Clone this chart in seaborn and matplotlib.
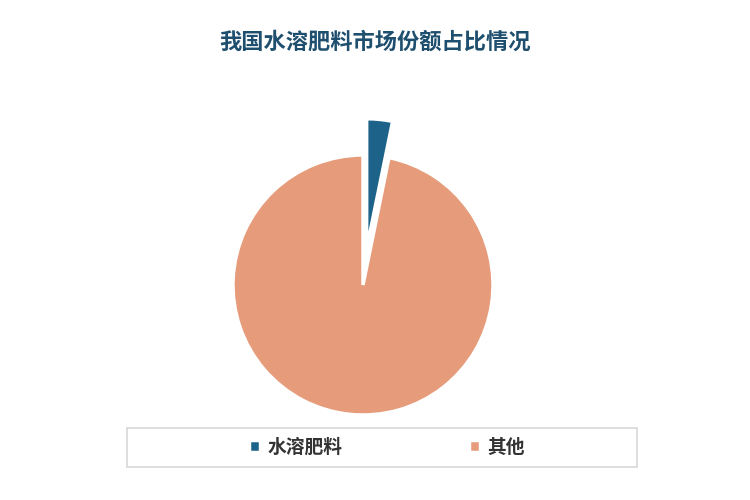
import matplotlib
matplotlib.use("Agg")
import matplotlib.pyplot as plt
from matplotlib.patches import Rectangle
import seaborn as sns

# data
labels = ['水溶肥料', '其他']
shares = [3.2, 96.8]
colors = ['#1d6389', '#e69b7a']
explode = [0.28, 0]

sns.set_theme(style="white")
plt.rcParams['font.family'] = ['Noto Sans CJK SC', 'DejaVu Sans']

fig = plt.figure(figsize=(7.5, 5), dpi=100)
fig.patch.set_facecolor('white')

# pie axes: centre at (363, 285) px, radius 130 px
half = 200
ax = fig.add_axes([(363 - half) / 750, (500 - 285 - half) / 500, 2 * half / 750, 2 * half / 500])
wedges, _ = ax.pie(shares, colors=colors, explode=explode, startangle=90,
                   counterclock=False, radius=1.0,
                   wedgeprops=dict(edgecolor='white', linewidth=2.5))
lim = half / 130
ax.set_xlim(-lim, lim)
ax.set_ylim(-lim, lim)
ax.set_aspect('equal')
ax.axis('off')

fig.text(0.5, 1 - 42 / 500, '我国水溶肥料市场份额占比情况', ha='center', va='center',
         fontsize=16, fontweight='bold', color='#1f4f6e')

# legend box
box = Rectangle((127 / 750, 33 / 500), 510 / 750, 39 / 500, transform=fig.transFigure,
                facecolor='white', edgecolor='#d8d8d8', linewidth=1.2)
fig.add_artist(box)

leg = fig.legend(wedges, labels, loc='center', ncol=2,
                 bbox_to_anchor=(387 / 750, 1 - 447 / 500),
                 frameon=False, columnspacing=6.75,
                 handlelength=0.6, handleheight=0.6, handletextpad=0.4,
                 prop={'size': 13.5, 'weight': 'bold'})
for t in leg.get_texts():
    t.set_color('#333333')

fig.savefig('out.png', dpi=100, facecolor='white')
